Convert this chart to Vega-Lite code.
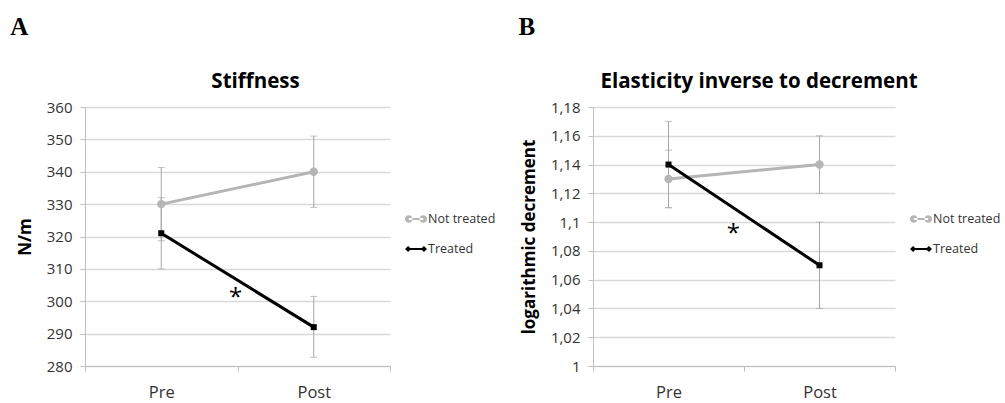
{
  "$schema": "https://vega.github.io/schema/vega-lite/v6.json",
  "padding": {"left": 10, "top": 14, "right": 0, "bottom": 0},
  "background": "white",
  "config": {
    "font": "Open Sans",
    "view": {"stroke": null},
    "concat": {"spacing": 22},
    "axisX": {"title": null, "labelAngle": 0, "tickBand": "extent", "domainColor": "#bfbfbf", "tickColor": "#bfbfbf", "tickSize": 5, "labelPadding": 13, "labelFontSize": 16.5, "labelColor": "#333333", "grid": false},
    "axisY": {"grid": true, "gridColor": "#d9d9d9", "gridWidth": 1.3, "domainColor": "#bfbfbf", "tickColor": "#bfbfbf", "tickSize": 5, "labelFontSize": 15, "labelColor": "#333333", "labelPadding": 8, "labelOverlap": false, "titleFontSize": 17, "titleFontWeight": "bold", "titleColor": "#000000", "titlePadding": 12},
    "legend": {"title": null, "labelFontSize": 12.5, "labelColor": "#333333", "labelOffset": 1, "symbolSize": 484, "rowPadding": 12, "orient": "none", "legendX": 320, "legendY": 101}
  },
  "datasets": {
    "stiff": [
      {"group": "Not treated", "time": "Pre", "value": 330, "lo": 318.7, "hi": 341.3},
      {"group": "Not treated", "time": "Post", "value": 340, "lo": 329, "hi": 351},
      {"group": "Treated", "time": "Pre", "value": 321, "lo": 310, "hi": 332},
      {"group": "Treated", "time": "Post", "value": 292, "lo": 282.7, "hi": 301.5}
    ],
    "elast": [
      {"group": "Not treated", "time": "Pre", "value": 1.13, "lo": 1.11, "hi": 1.15},
      {"group": "Not treated", "time": "Post", "value": 1.14, "lo": 1.12, "hi": 1.16},
      {"group": "Treated", "time": "Pre", "value": 1.14, "lo": 1.11, "hi": 1.17},
      {"group": "Treated", "time": "Post", "value": 1.07, "lo": 1.04, "hi": 1.10}
    ],
    "starA": [{"time": "Pre", "value": 301, "label": "*"}],
    "starB": [{"time": "Pre", "value": 1.092, "label": "*"}]
  },
  "resolve": {"scale": {"color": "independent", "y": "independent", "x": "independent"}, "legend": {"color": "independent"}},
  "hconcat": [
    {
      "title": {"text": "A", "anchor": "start", "font": "Liberation Serif", "fontSize": 25, "fontWeight": "bold", "color": "#000000", "offset": 32, "dx": -6},
      "vconcat": [
        {
          "width": 305, "height": 259,
          "title": {"text": "Stiffness", "fontSize": 20.5, "fontWeight": "bold", "color": "#000000", "frame": "group", "dx": 18, "offset": 8},
          "data": {"name": "stiff"},
          "encoding": {"x": {"field": "time", "type": "nominal", "sort": ["Pre", "Post"], "scale": {"paddingInner": 0, "paddingOuter": 0}}},
          "layer": [
            {"mark": {"type": "rule", "color": "#a6a6a6", "strokeWidth": 1},
             "encoding": {"y": {"field": "lo", "type": "quantitative", "title": "N/m", "scale": {"domain": [280, 360], "nice": false, "zero": false}, "axis": {"values": [280, 290, 300, 310, 320, 330, 340, 350, 360]}}, "y2": {"field": "hi"}}},
            {"mark": {"type": "tick", "color": "#a6a6a6", "size": 7, "thickness": 1, "orient": "horizontal"},
             "encoding": {"y": {"field": "lo", "type": "quantitative", "title": "N/m", "axis": {"values": [280, 290, 300, 310, 320, 330, 340, 350, 360]}}}},
            {"mark": {"type": "tick", "color": "#a6a6a6", "size": 7, "thickness": 1, "orient": "horizontal"},
             "encoding": {"y": {"field": "hi", "type": "quantitative", "title": "N/m", "axis": {"values": [280, 290, 300, 310, 320, 330, 340, 350, 360]}}}},
            {"mark": {"type": "line", "strokeWidth": 3},
             "encoding": {"y": {"field": "value", "type": "quantitative", "title": "N/m", "axis": {"values": [280, 290, 300, 310, 320, 330, 340, 350, 360]}},
               "color": {"field": "group", "type": "nominal", "scale": {"domain": ["Not treated", "Treated"], "range": ["#b5b5b5", "#000000"]},
                 "legend": {"encode": {"symbols": {"update": {
                   "shape": {"signal": "datum.value === 'Treated' ? 'M-1,0L-0.72,-0.28L-0.44,0L-0.72,0.28ZM0.44,0L0.72,-0.28L1,0L0.72,0.28ZM-0.72,-0.09L0.72,-0.09L0.72,0.09L-0.72,0.09Z' : 'M-1,0A0.34,0.34 0 1,0 -0.32,0A0.34,0.34 0 1,0 -1,0ZM0.32,0A0.34,0.34 0 1,0 1,0A0.34,0.34 0 1,0 0.32,0ZM-0.66,-0.1L0.66,-0.1L0.66,0.1L-0.66,0.1Z'"},
                   "fill": {"signal": "datum.value === 'Treated' ? '#000000' : '#b5b5b5'"},
                   "stroke": {"value": "transparent"},
                   "strokeWidth": {"value": 0},
                   "opacity": {"value": 1}}}}}}}},
            {"transform": [{"filter": "datum.group === 'Not treated'"}],
             "mark": {"type": "point", "shape": "circle", "filled": true, "opacity": 1, "size": 70, "color": "#b5b5b5"},
             "encoding": {"y": {"field": "value", "type": "quantitative", "title": "N/m", "axis": {"values": [280, 290, 300, 310, 320, 330, 340, 350, 360]}}}},
            {"transform": [{"filter": "datum.group === 'Treated'"}],
             "mark": {"type": "point", "shape": "square", "filled": true, "opacity": 1, "size": 36, "color": "#000000"},
             "encoding": {"y": {"field": "value", "type": "quantitative", "title": "N/m", "axis": {"values": [280, 290, 300, 310, 320, 330, 340, 350, 360]}}}},
            {"data": {"name": "starA"},
             "mark": {"type": "text", "fontSize": 24, "color": "#000000", "baseline": "middle", "align": "center"},
             "encoding": {"x": {"field": "time", "type": "nominal", "sort": ["Pre", "Post"], "bandPosition": 0.987},
               "y": {"field": "value", "type": "quantitative", "title": "N/m", "axis": {"values": [280, 290, 300, 310, 320, 330, 340, 350, 360]}}, "text": {"field": "label"}}}
          ]
        }
      ]
    },
    {
      "title": {"text": "B", "anchor": "start", "font": "Liberation Serif", "fontSize": 25, "fontWeight": "bold", "color": "#000000", "offset": 32, "dx": -2},
      "vconcat": [
        {
          "width": 302, "height": 259,
          "title": {"text": "Elasticity inverse to decrement", "fontSize": 20.5, "fontWeight": "bold", "color": "#000000", "frame": "group", "dx": 15, "offset": 8},
          "data": {"name": "elast"},
          "encoding": {"x": {"field": "time", "type": "nominal", "sort": ["Pre", "Post"], "scale": {"paddingInner": 0, "paddingOuter": 0}}},
          "layer": [
            {"mark": {"type": "rule", "color": "#a6a6a6", "strokeWidth": 1},
             "encoding": {"y": {"field": "lo", "type": "quantitative", "title": "logarithmic decrement", "scale": {"domain": [1, 1.18], "nice": false, "zero": false}, "axis": {"values": [1, 1.02, 1.04, 1.06, 1.08, 1.1, 1.12, 1.14, 1.16, 1.18], "labelExpr": "replace(toString(round(datum.value*100)/100), '.', ',')"}}, "y2": {"field": "hi"}}},
            {"mark": {"type": "tick", "color": "#a6a6a6", "size": 7, "thickness": 1, "orient": "horizontal"},
             "encoding": {"y": {"field": "lo", "type": "quantitative", "title": "logarithmic decrement", "axis": {"values": [1, 1.02, 1.04, 1.06, 1.08, 1.1, 1.12, 1.14, 1.16, 1.18], "labelExpr": "replace(toString(round(datum.value*100)/100), '.', ',')"}}}},
            {"mark": {"type": "tick", "color": "#a6a6a6", "size": 7, "thickness": 1, "orient": "horizontal"},
             "encoding": {"y": {"field": "hi", "type": "quantitative", "title": "logarithmic decrement", "axis": {"values": [1, 1.02, 1.04, 1.06, 1.08, 1.1, 1.12, 1.14, 1.16, 1.18], "labelExpr": "replace(toString(round(datum.value*100)/100), '.', ',')"}}}},
            {"mark": {"type": "line", "strokeWidth": 3},
             "encoding": {"y": {"field": "value", "type": "quantitative", "title": "logarithmic decrement", "axis": {"values": [1, 1.02, 1.04, 1.06, 1.08, 1.1, 1.12, 1.14, 1.16, 1.18], "labelExpr": "replace(toString(round(datum.value*100)/100), '.', ',')"}},
               "color": {"field": "group", "type": "nominal", "scale": {"domain": ["Not treated", "Treated"], "range": ["#b5b5b5", "#000000"]},
                 "legend": {"legendX": 317, "encode": {"symbols": {"update": {
                   "shape": {"signal": "datum.value === 'Treated' ? 'M-1,0L-0.72,-0.28L-0.44,0L-0.72,0.28ZM0.44,0L0.72,-0.28L1,0L0.72,0.28ZM-0.72,-0.09L0.72,-0.09L0.72,0.09L-0.72,0.09Z' : 'M-1,0A0.34,0.34 0 1,0 -0.32,0A0.34,0.34 0 1,0 -1,0ZM0.32,0A0.34,0.34 0 1,0 1,0A0.34,0.34 0 1,0 0.32,0ZM-0.66,-0.1L0.66,-0.1L0.66,0.1L-0.66,0.1Z'"},
                   "fill": {"signal": "datum.value === 'Treated' ? '#000000' : '#b5b5b5'"},
                   "stroke": {"value": "transparent"},
                   "strokeWidth": {"value": 0},
                   "opacity": {"value": 1}}}}}}}},
            {"transform": [{"filter": "datum.group === 'Not treated'"}],
             "mark": {"type": "point", "shape": "circle", "filled": true, "opacity": 1, "size": 70, "color": "#b5b5b5"},
             "encoding": {"y": {"field": "value", "type": "quantitative", "title": "logarithmic decrement", "axis": {"values": [1, 1.02, 1.04, 1.06, 1.08, 1.1, 1.12, 1.14, 1.16, 1.18], "labelExpr": "replace(toString(round(datum.value*100)/100), '.', ',')"}}}},
            {"transform": [{"filter": "datum.group === 'Treated'"}],
             "mark": {"type": "point", "shape": "square", "filled": true, "opacity": 1, "size": 36, "color": "#000000"},
             "encoding": {"y": {"field": "value", "type": "quantitative", "title": "logarithmic decrement", "axis": {"values": [1, 1.02, 1.04, 1.06, 1.08, 1.1, 1.12, 1.14, 1.16, 1.18], "labelExpr": "replace(toString(round(datum.value*100)/100), '.', ',')"}}}},
            {"data": {"name": "starB"},
             "mark": {"type": "text", "fontSize": 24, "color": "#000000", "baseline": "middle", "align": "center"},
             "encoding": {"x": {"field": "time", "type": "nominal", "sort": ["Pre", "Post"], "bandPosition": 0.93},
               "y": {"field": "value", "type": "quantitative", "title": "logarithmic decrement", "axis": {"values": [1, 1.02, 1.04, 1.06, 1.08, 1.1, 1.12, 1.14, 1.16, 1.18], "labelExpr": "replace(toString(round(datum.value*100)/100), '.', ',')"}}, "text": {"field": "label"}}}
          ]
        }
      ]
    }
  ]
}
